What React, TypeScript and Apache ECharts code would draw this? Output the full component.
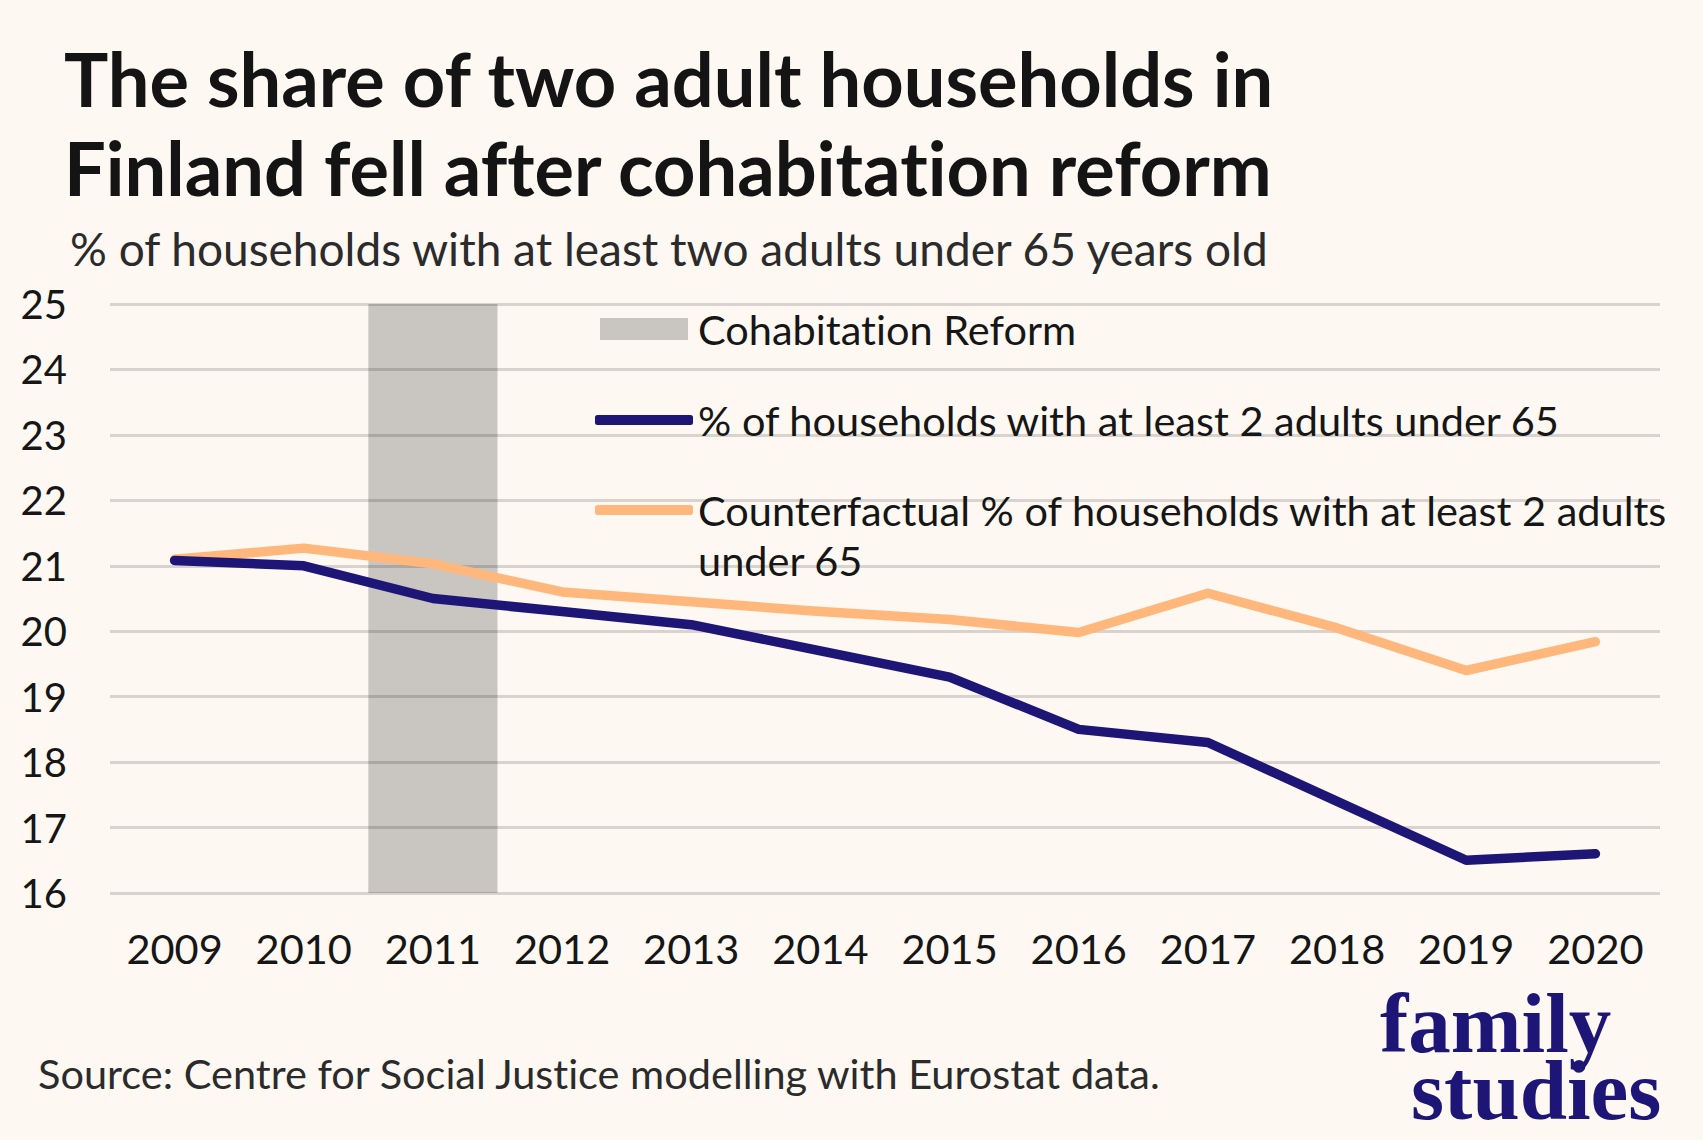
import React, { useEffect, useRef } from "react";
import * as echarts from "echarts";

// chart values
const years = ["2009", "2010", "2011", "2012", "2013", "2014", "2015", "2016", "2017", "2018", "2019", "2020"];
const actualShare = [21.08, 21.0, 20.5, 20.3, 20.1, 19.7, 19.3, 18.5, 18.3, 17.4, 16.5, 16.6];
const counterfactualShare = [21.1, 21.27, 21.03, 20.6, 20.45, 20.3, 20.18, 19.98, 20.58, 20.05, 19.4, 19.84];
const reformYears = ["2011"];
const yMin = 16;
const yMax = 25;

const reformName = "Cohabitation Reform";
const actualName = "% of households with at least 2 adults under 65";
const counterName = "Counterfactual % of households with at least 2 adults\nunder 65";

const FONT = "Lato, 'Noto Sans', sans-serif";
const NAVY = "#1D1677";
const ORANGE = "#FFB77C";
const SHADE = "#C9C5C1";
const BG = "#FEF8F3";

const App = () => {
	const chartRef = useRef<HTMLDivElement>(null);

	useEffect(() => {
		if (!chartRef.current) return;
		document.body.style.margin = "0";
		const chart = echarts.init(chartRef.current, null, { renderer: "svg" });

		const legendText = { fontFamily: FONT, fontSize: 41.5, color: "#161616", lineHeight: 50 };

		const option = {
			animation: false,
			backgroundColor: BG,
			title: [
				{
					text: "The share of two adult households in\nFinland fell after cohabitation reform",
					left: 64,
					top: 34,
					padding: 0,
					textStyle: { fontFamily: FONT, fontWeight: "bold", fontSize: 74, lineHeight: 89, color: "#141414" }
				},
				{
					text: "% of households with at least two adults under 65 years old",
					left: 70,
					top: 225,
					padding: 0,
					textStyle: { fontFamily: FONT, fontWeight: "normal", fontSize: 46, lineHeight: 46, color: "#2b2b2b" }
				},
				{
					text: "Source: Centre for Social Justice modelling with Eurostat data.",
					left: 38,
					top: 1052,
					padding: 0,
					textStyle: { fontFamily: FONT, fontWeight: "normal", fontSize: 41.5, lineHeight: 42, color: "#2b2b2b" }
				}
			],
			legend: [
				{
					data: [reformName],
					left: 600,
					top: 304,
					padding: 0,
					orient: "vertical",
					selectedMode: false,
					icon: "rect",
					itemWidth: 88,
					itemHeight: 22,
					textStyle: { ...legendText, padding: [0, 0, 0, 5] }
				},
				{
					data: [actualName],
					left: 595,
					top: 395,
					padding: 0,
					orient: "vertical",
					selectedMode: false,
					icon: "roundRect",
					itemWidth: 98,
					itemHeight: 10,
					textStyle: legendText
				},
				{
					// blank first line so the first text line sits level with the icon
					data: [counterName],
					formatter: (name: string) => "\n" + name,
					left: 595,
					top: 435,
					padding: 0,
					orient: "vertical",
					selectedMode: false,
					icon: "roundRect",
					itemWidth: 98,
					itemHeight: 10,
					textStyle: legendText
				}
			],
			grid: { left: 110, right: 43, top: 304, bottom: 247 },
			xAxis: {
				type: "category",
				data: years,
				boundaryGap: true,
				axisLine: { show: false },
				axisTick: { show: false },
				axisLabel: { margin: 34, fontFamily: FONT, fontSize: 41.5, color: "#161616" }
			},
			yAxis: {
				type: "value",
				min: yMin,
				max: yMax,
				interval: 1,
				z: 3,
				axisLine: { show: false },
				axisTick: { show: false },
				axisLabel: { margin: 43, fontFamily: FONT, fontSize: 40, color: "#161616" },
				splitLine: { lineStyle: { color: "rgba(0,0,0,0.15)", width: 3 } }
			},
			series: [
				{
					name: reformName,
					type: "bar",
					z: 1,
					barWidth: "100%",
					itemStyle: { color: SHADE },
					data: years.map(y => (reformYears.includes(y) ? yMax : null))
				},
				{
					name: actualName,
					type: "line",
					z: 6,
					showSymbol: false,
					symbol: "none",
					itemStyle: { color: NAVY },
					lineStyle: { color: NAVY, width: 9.5, cap: "round", join: "round" },
					data: actualShare
				},
				{
					name: counterName,
					type: "line",
					z: 5,
					showSymbol: false,
					symbol: "none",
					itemStyle: { color: ORANGE },
					lineStyle: { color: ORANGE, width: 9.5, cap: "round", join: "round" },
					data: counterfactualShare
				}
			],
			graphic: [
				{
					type: "text",
					left: 1380,
					top: 980,
					style: {
						text: "{f|family}\n{s|studies}",
						fill: NAVY,
						rich: {
							f: { font: "bold 85px 'Liberation Serif', serif", fill: NAVY, lineHeight: 67 },
							s: { font: "bold 85px 'Liberation Serif', serif", fill: NAVY, lineHeight: 67, padding: [0, 0, 0, 31] }
						}
					}
				}
			]
		};

		chart.setOption(option as any);
		return () => {
			chart.dispose();
		};
	}, []);

	return (
		<>
			{/* the inline font shorthand resets ligatures, so force them off */}
			<style>{"svg text, svg tspan { font-variant-ligatures: none !important; font-feature-settings: 'liga' 0, 'clig' 0, 'dlig' 0 !important; }"}</style>
			<div ref={chartRef} style={{ width: 1703, height: 1140 }} />
		</>
	);
};

export default App;
